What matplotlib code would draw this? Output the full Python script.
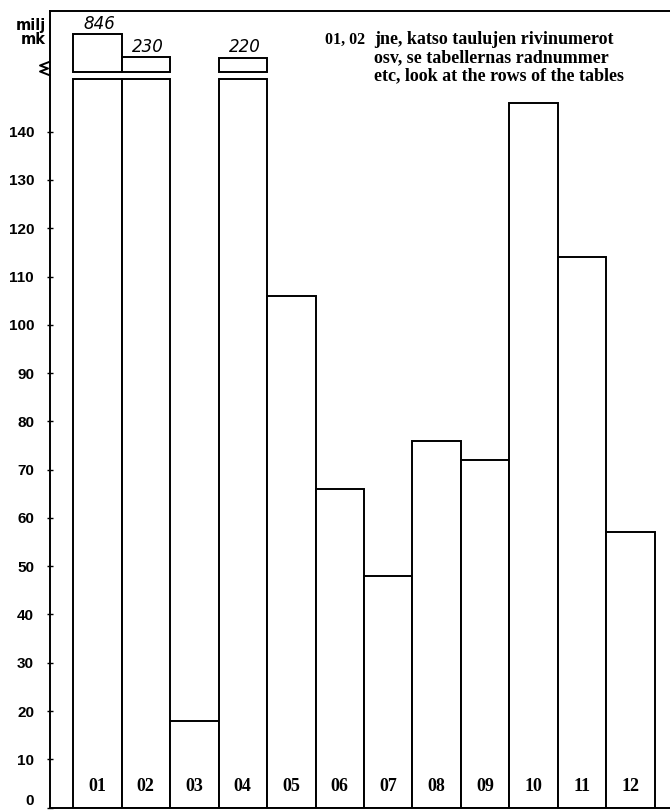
import matplotlib
matplotlib.use("Agg")
import matplotlib.pyplot as plt
from matplotlib.lines import Line2D

# row numbers and values (milj mk)
rows = ["01", "02", "03", "04", "05", "06", "07", "08", "09", "10", "11", "12"]
values = [846, 230, 18, 220, 106, 66, 48, 76, 72, 146, 114, 57]
yticks = list(range(0, 150, 10))

note_lead = "01, 02"
note_text = ("jne, katso taulujen rivinumerot\n"
             "osv, se tabellernas radnummer\n"
             "etc, look at the rows of the tables")

CAP = 151.0      # where the off-scale bars are cut
GAP = 1.3        # gap between the cut and the stub


def stub_height(v):
    # small box on top of a broken bar, loosely growing with the value
    return 2.5 + (v - 150) / 130.0


fig = plt.figure(figsize=(6.7, 8.1), dpi=100)
ax = fig.add_axes([50 / 670, 0.003, 1 - 50 / 670, 0.9834])

x = list(range(len(rows)))
lower = [min(v, CAP) for v in values]
ax.bar(x, lower, width=1.0, color="white", edgecolor="black", linewidth=1.4)

for i, v in enumerate(values):
    if v > CAP:
        h = stub_height(v)
        ax.bar(i, h, bottom=CAP + GAP, width=1.0, color="white",
               edgecolor="black", linewidth=1.4)
        ax.text(i + 0.05, CAP + GAP + h + 0.3, str(v), ha="center", va="bottom",
                fontsize=12, fontweight="light", fontstyle="italic",
                family="DejaVu Sans")
    ax.text(i, 4.4, rows[i], ha="center", va="center", fontsize=13,
            fontweight="bold", family="Liberation Serif")

ax.set_xlim(-0.975, 11.81)
ax.set_ylim(0, 165)
ax.set_yticks(yticks)
ax.set_yticklabels([str(t) for t in yticks], fontsize=11, fontweight="bold",
                   family="Liberation Sans")
ax.tick_params(axis="y", direction="inout", length=5, width=1, pad=9)
ax.yaxis.get_major_ticks()[0].label1.set_verticalalignment("bottom")
ax.set_xticks([])
ax.spines["right"].set_visible(False)
for side in ["left", "top", "bottom"]:
    ax.spines[side].set_linewidth(1.4)

# unit label and axis break mark
fig.text(46 / 670, 1 - 30 / 810, "milj", ha="right", va="baseline",
         fontsize=10.5, fontweight="bold", family="DejaVu Sans")
fig.text(46 / 670, 1 - 44 / 810, "mk", ha="right", va="baseline",
         fontsize=10.5, fontweight="bold", family="DejaVu Sans")
zx = [49, 40, 48, 40, 49]
zy = [62, 65.5, 68.5, 71.5, 75]
fig.add_artist(Line2D([a / 670 for a in zx], [1 - b / 810 for b in zy],
                      color="black", linewidth=1.4))

# note in the upper right corner
fig.text(325 / 670, 1 - 44 / 810, note_lead, ha="left", va="baseline",
         fontsize=11.5, fontweight="bold", family="Liberation Serif")
fig.text(374 / 670, 1 - 31 / 810, note_text, ha="left", va="top",
         fontsize=13, fontweight="bold", family="Liberation Serif",
         linespacing=1.1)

fig.savefig("out.png", dpi=100, facecolor="white")
